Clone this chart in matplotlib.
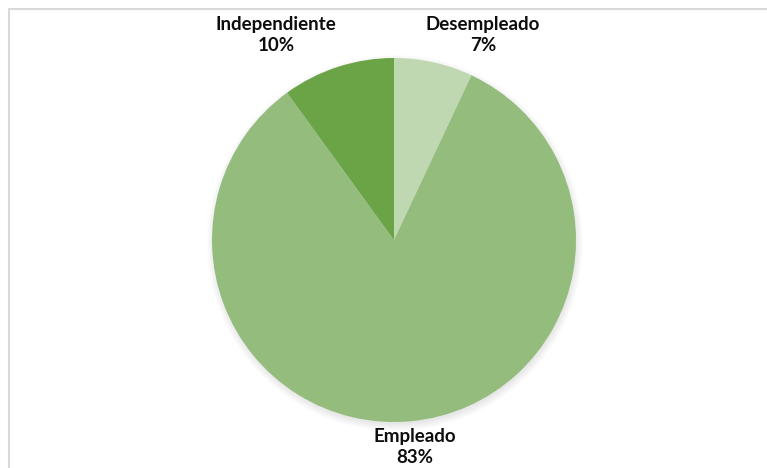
import matplotlib
matplotlib.use('Agg')
import matplotlib.pyplot as plt
from matplotlib.patches import Circle

labels = ['Desempleado', 'Empleado', 'Independiente']
shares = [7, 83, 10]
colors = ['#BFD8B2', '#93BC7D', '#6AA446']

# where each label block sits (pixels from the top-left corner)
label_pos = {'Desempleado': (483, 35), 'Empleado': (415, 447), 'Independiente': (276, 35)}

W, H = 767, 468
fig = plt.figure(figsize=(W / 100, H / 100), dpi=100)
ax = fig.add_axes([0, 0, 1, 1])
ax.set_xlim(0, W)
ax.set_ylim(0, H)
ax.set_aspect('equal')
ax.axis('off')

# chart frame, only the top and left edges are in view
ax.plot([8.5, 8.5, W], [0, H - 8.5, H - 8.5], color='#D9D9D9', lw=1.5, solid_capstyle='butt')

cx, cy, r = 394, H - 240, 182

# soft shadow under the pie
for i in range(8):
    ax.add_patch(Circle((cx + 1, cy - 3), r + 6 - i, color='black', alpha=0.012, lw=0, zorder=1))

ax.pie(shares, colors=colors, startangle=90, counterclock=False,
       center=(cx, cy), radius=r, frame=True,
       wedgeprops=dict(linewidth=0))
ax.set_xlim(0, W)
ax.set_ylim(0, H)
ax.axis('off')

for name, val in zip(labels, shares):
    x, y = label_pos[name]
    ax.text(x, H - y, f'{name}\n{val}%', ha='center', va='center',
            fontsize=13.5, fontweight='bold', family='Lato', color='#0D0D0D',
            linespacing=1.3)

fig.savefig('out.png', dpi=100)
